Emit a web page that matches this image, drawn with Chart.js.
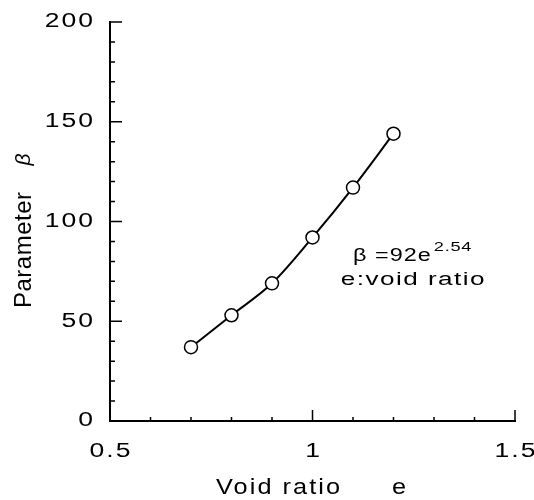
<!DOCTYPE html>
<html>
<head>
<meta charset="utf-8">
<script src="https://cdn.jsdelivr.net/npm/chart.js@4"></script>
<style>
  body { margin: 0; background: #fff; }
  canvas { display: block; }
</style>
</head>
<body>
<canvas id="chart" width="534" height="500"></canvas>
<script>
// measured points: void ratio e vs parameter beta
const voidRatio = [0.7, 0.8, 0.9, 1.0, 1.1, 1.2];
const beta = [37, 53, 69, 92, 117, 144];
const xTicks = [0.5, 1, 1.5];
const yTicks = [0, 50, 100, 150, 200];

const FONT = "'Liberation Sans', Arial, sans-serif";

// the scanned original is stretched sideways, so text is drawn with a horizontal scale
function wideText(ctx, text, x, y, o) {
  const sx = o.sx || 1;
  const ls = o.ls || 0;
  ctx.save();
  ctx.font = o.font;
  ctx.letterSpacing = ls + "px";
  ctx.textAlign = "left";
  ctx.textBaseline = o.baseline || "alphabetic";
  const w = ctx.measureText(text).width - ls;
  let x0 = 0;
  if (o.align === "center") x0 = -w / 2;
  else if (o.align === "right") x0 = -w;
  ctx.translate(x, y);
  ctx.scale(sx, 1);
  ctx.fillText(text, x0, 0);
  ctx.restore();
  return w * sx;
}

// inward tick marks, tick labels, axis titles and the fit equation
const decorPlugin = {
  id: "decor",
  afterDraw(chart) {
    const ctx = chart.ctx;
    const xs = chart.scales.x;
    const ys = chart.scales.y;
    const area = chart.chartArea;
    ctx.save();
    ctx.strokeStyle = "#000";
    ctx.lineWidth = 1.5;
    ctx.beginPath();
    for (let v = 0; v <= 200; v += 10) {
      const py = ys.getPixelForValue(v);
      const len = v % 50 === 0 ? 12 : 5;
      ctx.moveTo(area.left, py);
      ctx.lineTo(area.left + len, py);
    }
    for (let i = 6; i <= 15; i++) {
      const px = xs.getPixelForValue(i / 10);
      const len = i % 5 === 0 ? 11 : 4;
      ctx.moveTo(px, area.bottom);
      ctx.lineTo(px, area.bottom - len);
    }
    ctx.stroke();

    ctx.fillStyle = "#000";
    const tickFont = "19.5px " + FONT;
    yTicks.forEach(v => {
      wideText(ctx, String(v), area.left - 17, ys.getPixelForValue(v),
        { font: tickFont, sx: 1.36, ls: 1.5, align: "right", baseline: "middle" });
    });
    xTicks.forEach(v => {
      wideText(ctx, String(v), xs.getPixelForValue(v), area.bottom + 31,
        { font: tickFont, sx: 1.36, ls: 1.5, align: "center", baseline: "middle" });
    });

    // y title, rotated
    ctx.save();
    ctx.translate(24, 228);
    ctx.rotate(-Math.PI / 2);
    ctx.textBaseline = "middle";
    ctx.textAlign = "left";
    ctx.font = "24px " + FONT;
    ctx.letterSpacing = "0.5px";
    const w1 = ctx.measureText("Parameter").width;
    ctx.fillText("Parameter", -80, 0);
    ctx.font = "italic 21px " + FONT;
    ctx.fillText("\u03B2", -80 + w1 + 26, 0);
    ctx.restore();

    // x title
    const titleFont = { font: "22px " + FONT, sx: 1.15, ls: 1.8 };
    wideText(ctx, "Void ratio", 216, 494, titleFont);
    wideText(ctx, "e", 392, 494, titleFont);

    // fit equation
    const ex = xs.getPixelForValue(1.1);
    const ey = ys.getPixelForValue(80);
    const wEq = wideText(ctx, "\u03B2 =92e", ex, ey, { font: "18px " + FONT, sx: 1.3, ls: 0.8 });
    wideText(ctx, "2.54", ex + wEq + 3, ey - 10, { font: "13px " + FONT, sx: 1.4, ls: 0.5 });
    wideText(ctx, "e:void ratio", xs.getPixelForValue(1.07), ys.getPixelForValue(68),
      { font: "18px " + FONT, sx: 1.45, ls: 1 });
    ctx.restore();
  }
};

new Chart(document.getElementById("chart").getContext("2d"), {
  type: "line",
  data: {
    datasets: [{
      data: voidRatio.map((e, i) => ({ x: e, y: beta[i] })),
      borderColor: "#000",
      borderWidth: 2,
      backgroundColor: "#fff",
      pointBackgroundColor: "#fff",
      pointBorderColor: "#000",
      pointBorderWidth: 1.5,
      pointRadius: 6.5,
      cubicInterpolationMode: "monotone",
      fill: false
    }]
  },
  options: {
    responsive: false,
    animation: false,
    layout: { padding: { top: 22, right: 19, left: 0, bottom: 0 } },
    plugins: {
      legend: { display: false },
      tooltip: { enabled: false }
    },
    scales: {
      x: {
        type: "linear",
        min: 0.5,
        max: 1.5,
        afterFit: s => { s.height = 79; s.paddingLeft = 0; s.paddingRight = 0; },
        afterBuildTicks: s => { s.ticks = xTicks.map(v => ({ value: v })); },
        grid: { display: false, drawTicks: false },
        border: { display: true, color: "#000", width: 2 },
        ticks: { display: false }
      },
      y: {
        type: "linear",
        min: 0,
        max: 200,
        afterFit: s => { s.width = 110; s.paddingTop = 0; s.paddingBottom = 0; },
        afterBuildTicks: s => { s.ticks = yTicks.map(v => ({ value: v })); },
        grid: { display: false, drawTicks: false },
        border: { display: true, color: "#000", width: 2 },
        ticks: { display: false }
      }
    }
  },
  plugins: [decorPlugin]
});
</script>
</body>
</html>
